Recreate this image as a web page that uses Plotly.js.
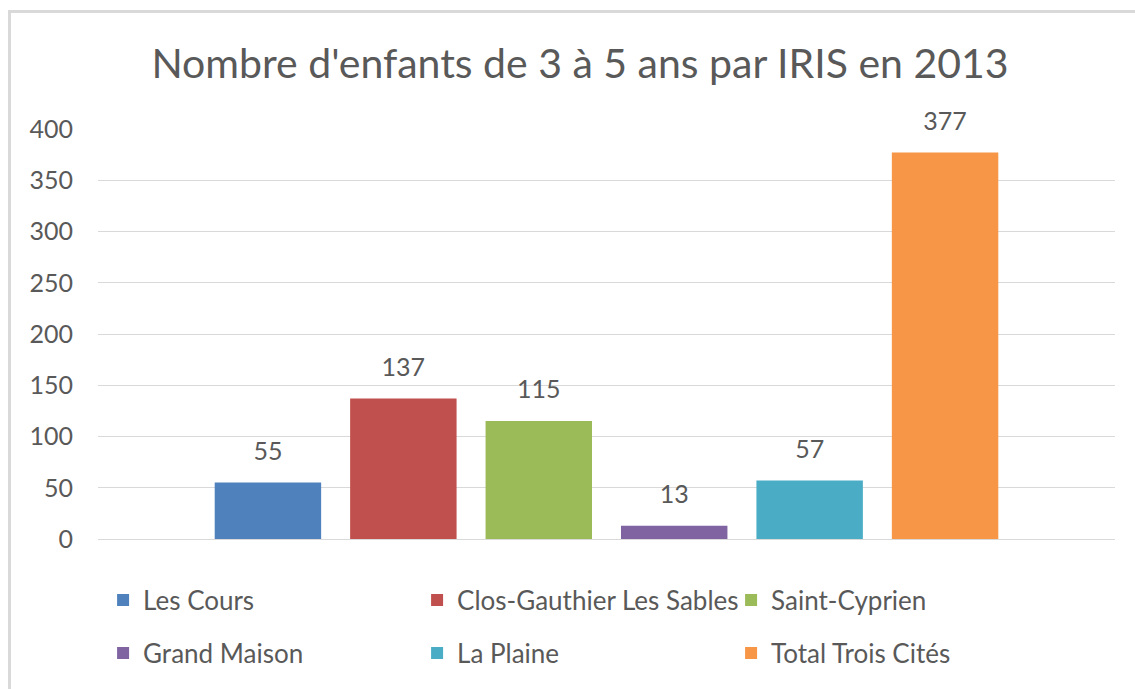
<!DOCTYPE html>
<html>
<head>
<meta charset="utf-8">
<script src="https://cdn.plot.ly/plotly-3.0.1.min.js"></script>
<style>
  html, body { margin: 0; padding: 0; background: #ffffff; overflow: hidden; }
  #chart { position: absolute; left: 0; top: 0; width: 1135px; height: 689px; }
  #frame { position: absolute; left: 8px; top: 10px; width: 1300px; height: 900px;
           border-top: 3px solid #d9d9d9; border-left: 3px solid #d9d9d9; pointer-events: none; }
</style>
</head>
<body>
<div id="chart"></div>
<div id="frame"></div>
<script>
const chartTitle = "Nombre d'enfants de 3 à 5 ans par IRIS en 2013";
const category = ['IRIS 2013'];
const seriesNames = ['Les Cours', 'Clos-Gauthier Les Sables', 'Saint-Cyprien', 'Grand Maison', 'La Plaine', 'Total Trois Cités'];
const seriesValues = [55, 137, 115, 13, 57, 377];
const seriesColors = ['#4F81BD', '#C0504D', '#9BBB59', '#8064A2', '#4BACC6', '#F79646'];
const yTicks = [0, 50, 100, 150, 200, 250, 300, 350, 400];

const FONT = 'Lato, "Open Sans", sans-serif';
const GREY = '#595959';

const traces = seriesNames.map((name, i) => ({
  type: 'bar',
  name: name,
  x: category,
  y: [seriesValues[i]],
  marker: { color: seriesColors[i] },
  texttemplate: '<span style="font-size:25px">%{y}</span><br>\u00a0',
  textposition: 'outside',
  textfont: { family: FONT, size: 13, color: GREY },
  cliponaxis: false,
  hoverinfo: 'name+y',
  legend: i < 3 ? 'legend' : 'legend2'
}));

const legendCommon = {
  orientation: 'h',
  xref: 'paper', x: 0.005, xanchor: 'left',
  yanchor: 'middle',
  font: { family: FONT, size: 26, color: GREY },
  entrywidth: 269, entrywidthmode: 'pixels',
  bgcolor: 'rgba(0,0,0,0)'
};

const layout = {
  width: 1135, height: 689,
  paper_bgcolor: '#ffffff', plot_bgcolor: '#ffffff',
  margin: { l: 98, r: 20, t: 129, b: 150 },
  title: {
    text: chartTitle,
    font: { family: FONT, size: 41, color: GREY },
    xref: 'container', x: 580 / 1135, xanchor: 'center',
    yref: 'container', y: 1 - 64 / 689, yanchor: 'middle'
  },
  barmode: 'group',
  bargap: 0.201,
  bargroupgap: 0.214,
  xaxis: { showticklabels: false, showgrid: false, zeroline: false, showline: false, ticks: '', fixedrange: true },
  yaxis: {
    range: [0, 400], tickmode: 'array', tickvals: yTicks, ticktext: yTicks.map(String),
    showgrid: true, gridcolor: '#d9d9d9', gridwidth: 1,
    zeroline: true, zerolinecolor: '#d9d9d9', zerolinewidth: 1,
    showline: false, ticks: '', ticklabelstandoff: 24,
    tickfont: { family: FONT, size: 25, color: GREY }, fixedrange: true
  },
  showlegend: true,
  legend: Object.assign({}, legendCommon, { y: (539 - 600) / 410 }),
  legend2: Object.assign({}, legendCommon, { y: (539 - 653) / 410 })
};

Plotly.newPlot('chart', traces, layout, { displayModeBar: false, responsive: false });
</script>
</body>
</html>
